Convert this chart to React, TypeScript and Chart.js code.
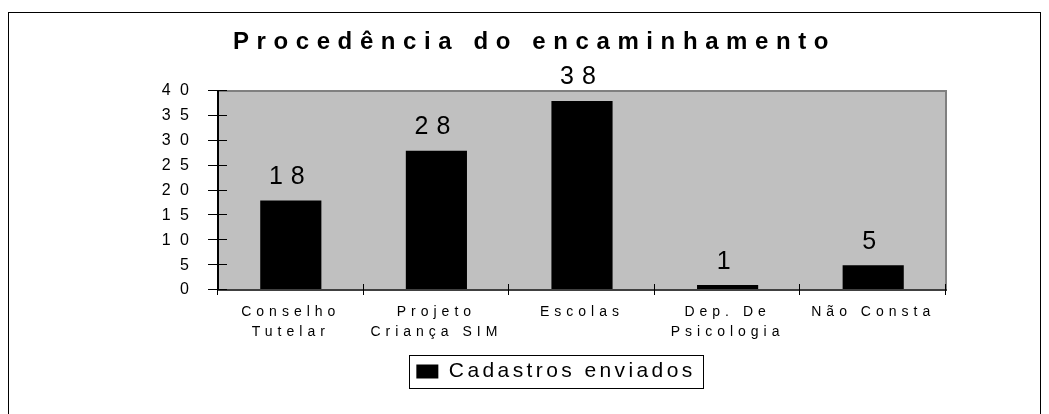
import React, { useEffect, useRef } from "react";
import { Chart, registerables } from "chart.js";

Chart.register(...registerables);

const TITLE = "Procedência do encaminhamento";
const CATEGORIES: (string | string[])[] = [
  ["Conselho", "Tutelar"],
  ["Projeto", "Criança SIM"],
  "Escolas",
  ["Dep. De", "Psicologia"],
  "Não Consta",
];
const SERIES_LABEL = "Cadastros enviados";
const VALUES = [18, 28, 38, 1, 5];
const Y_MIN = 0;
const Y_MAX = 40;
const Y_STEP = 5;

const FONT = "'Liberation Sans', Arial, Helvetica, sans-serif";
// letter spacing (px) by font size, to imitate the stretched look of the original
const SPACING: Record<number, number> = { 24: 7.6, 16: 9.5, 14: 5, 25: 8, 21: 3.4 };

function installSpacing(ctx: CanvasRenderingContext2D) {
  const desc = Object.getOwnPropertyDescriptor(CanvasRenderingContext2D.prototype, "font");
  if (!desc || !desc.set || !desc.get) return;
  Object.defineProperty(ctx, "font", {
    configurable: true,
    get() {
      return desc.get!.call(this);
    },
    set(v: string) {
      desc.set!.call(this, v);
      const m = /(\d+(?:\.\d+)?)px/.exec(v);
      const size = m ? parseFloat(m[1]) : 0;
      try {
        (this as any).letterSpacing = (SPACING[size] ?? 0) + "px";
      } catch (e) {
        /* ignore */
      }
    },
  });
}

const framePlugin = {
  id: "frame",
  afterLayout(chart: any) {
    const t = chart.titleBlock;
    if (t) {
      t.left += 1.5;
      t.right += 1.5;
    }
    const lg = chart.legend;
    if (lg) {
      lg.left += 23;
      lg.right += 23;
    }
  },
  beforeDraw(chart: any) {
    const { ctx, chartArea: a } = chart;
    ctx.save();
    ctx.fillStyle = "#ffffff";
    ctx.fillRect(0, 0, chart.width, chart.height);
    ctx.strokeStyle = "#000000";
    ctx.lineWidth = 1;
    ctx.strokeRect(8.5, 12.5, 1032, 430);
    ctx.fillStyle = "#c0c0c0";
    ctx.fillRect(a.left, a.top, a.right - a.left, a.bottom - a.top);
    ctx.restore();
  },
  afterDatasetsDraw(chart: any) {
    const { ctx, chartArea: a } = chart;
    const xs = chart.scales.x;
    const ys = chart.scales.y;
    ctx.save();
    // frame of plot area
    ctx.fillStyle = "#808080";
    ctx.fillRect(a.left, a.top - 1, a.right - a.left + 1, 2);
    ctx.fillRect(a.right - 1, a.top - 1, 2, a.bottom - a.top + 1);
    ctx.fillStyle = "#000000";
    ctx.fillRect(a.left - 1, a.top - 1, 2, a.bottom - a.top + 2);
    ctx.fillStyle = "#404040";
    ctx.fillRect(a.left - 1, a.bottom - 1, a.right - a.left + 2, 2);
    // tick marks crossing the axes
    ctx.strokeStyle = "#000000";
    ctx.lineWidth = 1;
    ctx.beginPath();
    ys.ticks.forEach((t: any) => {
      const y = Math.round(ys.getPixelForValue(t.value)) - 0.5;
      ctx.moveTo(a.left - 10, y);
      ctx.lineTo(a.left + 9, y);
    });
    for (let i = 0; i <= CATEGORIES.length; i++) {
      const x = Math.round(xs.getPixelForValue(i - 0.5)) - 0.5;
      ctx.moveTo(x, a.bottom - 6);
      ctx.lineTo(x, a.bottom + 5);
    }
    ctx.stroke();
    // value labels
    ctx.fillStyle = "#000000";
    ctx.font = `25px ${FONT}`;
    ctx.textAlign = "center";
    ctx.textBaseline = "alphabetic";
    const meta = chart.getDatasetMeta(0);
    meta.data.forEach((bar: any, i: number) => {
      ctx.fillText(String(VALUES[i]), bar.x, bar.y - 16.5);
    });
    ctx.restore();
  },
  afterDraw(chart: any) {
    const lg = chart.legend;
    if (!lg || !lg.legendHitBoxes || !lg.legendHitBoxes.length) return;
    const hb = lg.legendHitBoxes[0];
    const { ctx } = chart;
    ctx.save();
    ctx.strokeStyle = "#000000";
    ctx.lineWidth = 1;
    ctx.strokeRect(
      Math.round(hb.left - 7) + 0.5,
      Math.round(hb.top - 6) + 0.5,
      Math.round(hb.width + 15),
      Math.round(hb.height + 12)
    );
    ctx.restore();
  },
};

export default function App() {
  const ref = useRef<HTMLCanvasElement | null>(null);

  useEffect(() => {
    const canvas = ref.current;
    if (!canvas) return;
    const ctx = canvas.getContext("2d");
    if (!ctx) return;
    installSpacing(ctx);
    const chart = new Chart(canvas, {
      type: "bar",
      data: {
        labels: CATEGORIES,
        datasets: [
          {
            label: SERIES_LABEL,
            data: VALUES,
            backgroundColor: "#000000",
            borderColor: "#000000",
            borderWidth: 0,
            categoryPercentage: 1,
            barPercentage: 0.42,
          },
        ],
      },
      options: {
        responsive: false,
        animation: false,
        devicePixelRatio: 1,
        layout: { padding: { left: 120, right: 103, top: 0, bottom: 22 } },
        plugins: {
          title: {
            display: true,
            text: TITLE,
            color: "#000000",
            font: { family: FONT, size: 24, weight: "bold" },
            padding: { top: 28, bottom: 34.2 },
          },
          legend: {
            display: true,
            position: "bottom",
            labels: {
              color: "#000000",
              font: { family: FONT, size: 21 },
              boxWidth: 22,
              boxHeight: 14,
              padding: 10,
            },
          },
          tooltip: { enabled: false },
        },
        scales: {
          x: {
            grid: { display: false, drawTicks: false },
            border: { display: false },
            ticks: {
              color: "#000000",
              font: { family: FONT, size: 14, lineHeight: "20px" },
              padding: 12,
              maxRotation: 0,
              autoSkip: false,
            },
            afterFit: (s: any) => {
              s.height = 61;
            },
          },
          y: {
            min: Y_MIN,
            max: Y_MAX,
            ticks: {
              stepSize: Y_STEP,
              color: "#000000",
              font: { family: FONT, size: 16 },
              padding: 19.5,
            },
            grid: { display: false, drawTicks: false },
            border: { display: false },
            afterFit: (s: any) => {
              s.width = 98;
            },
          },
        },
      },
      plugins: [framePlugin],
    } as any);
    return () => chart.destroy();
  }, []);

  return (
    <div style={{ position: "fixed", left: 0, top: 0, width: 1049, height: 414 }}>
      <canvas ref={ref} width={1049} height={414} style={{ display: "block" }} />
    </div>
  );
}
